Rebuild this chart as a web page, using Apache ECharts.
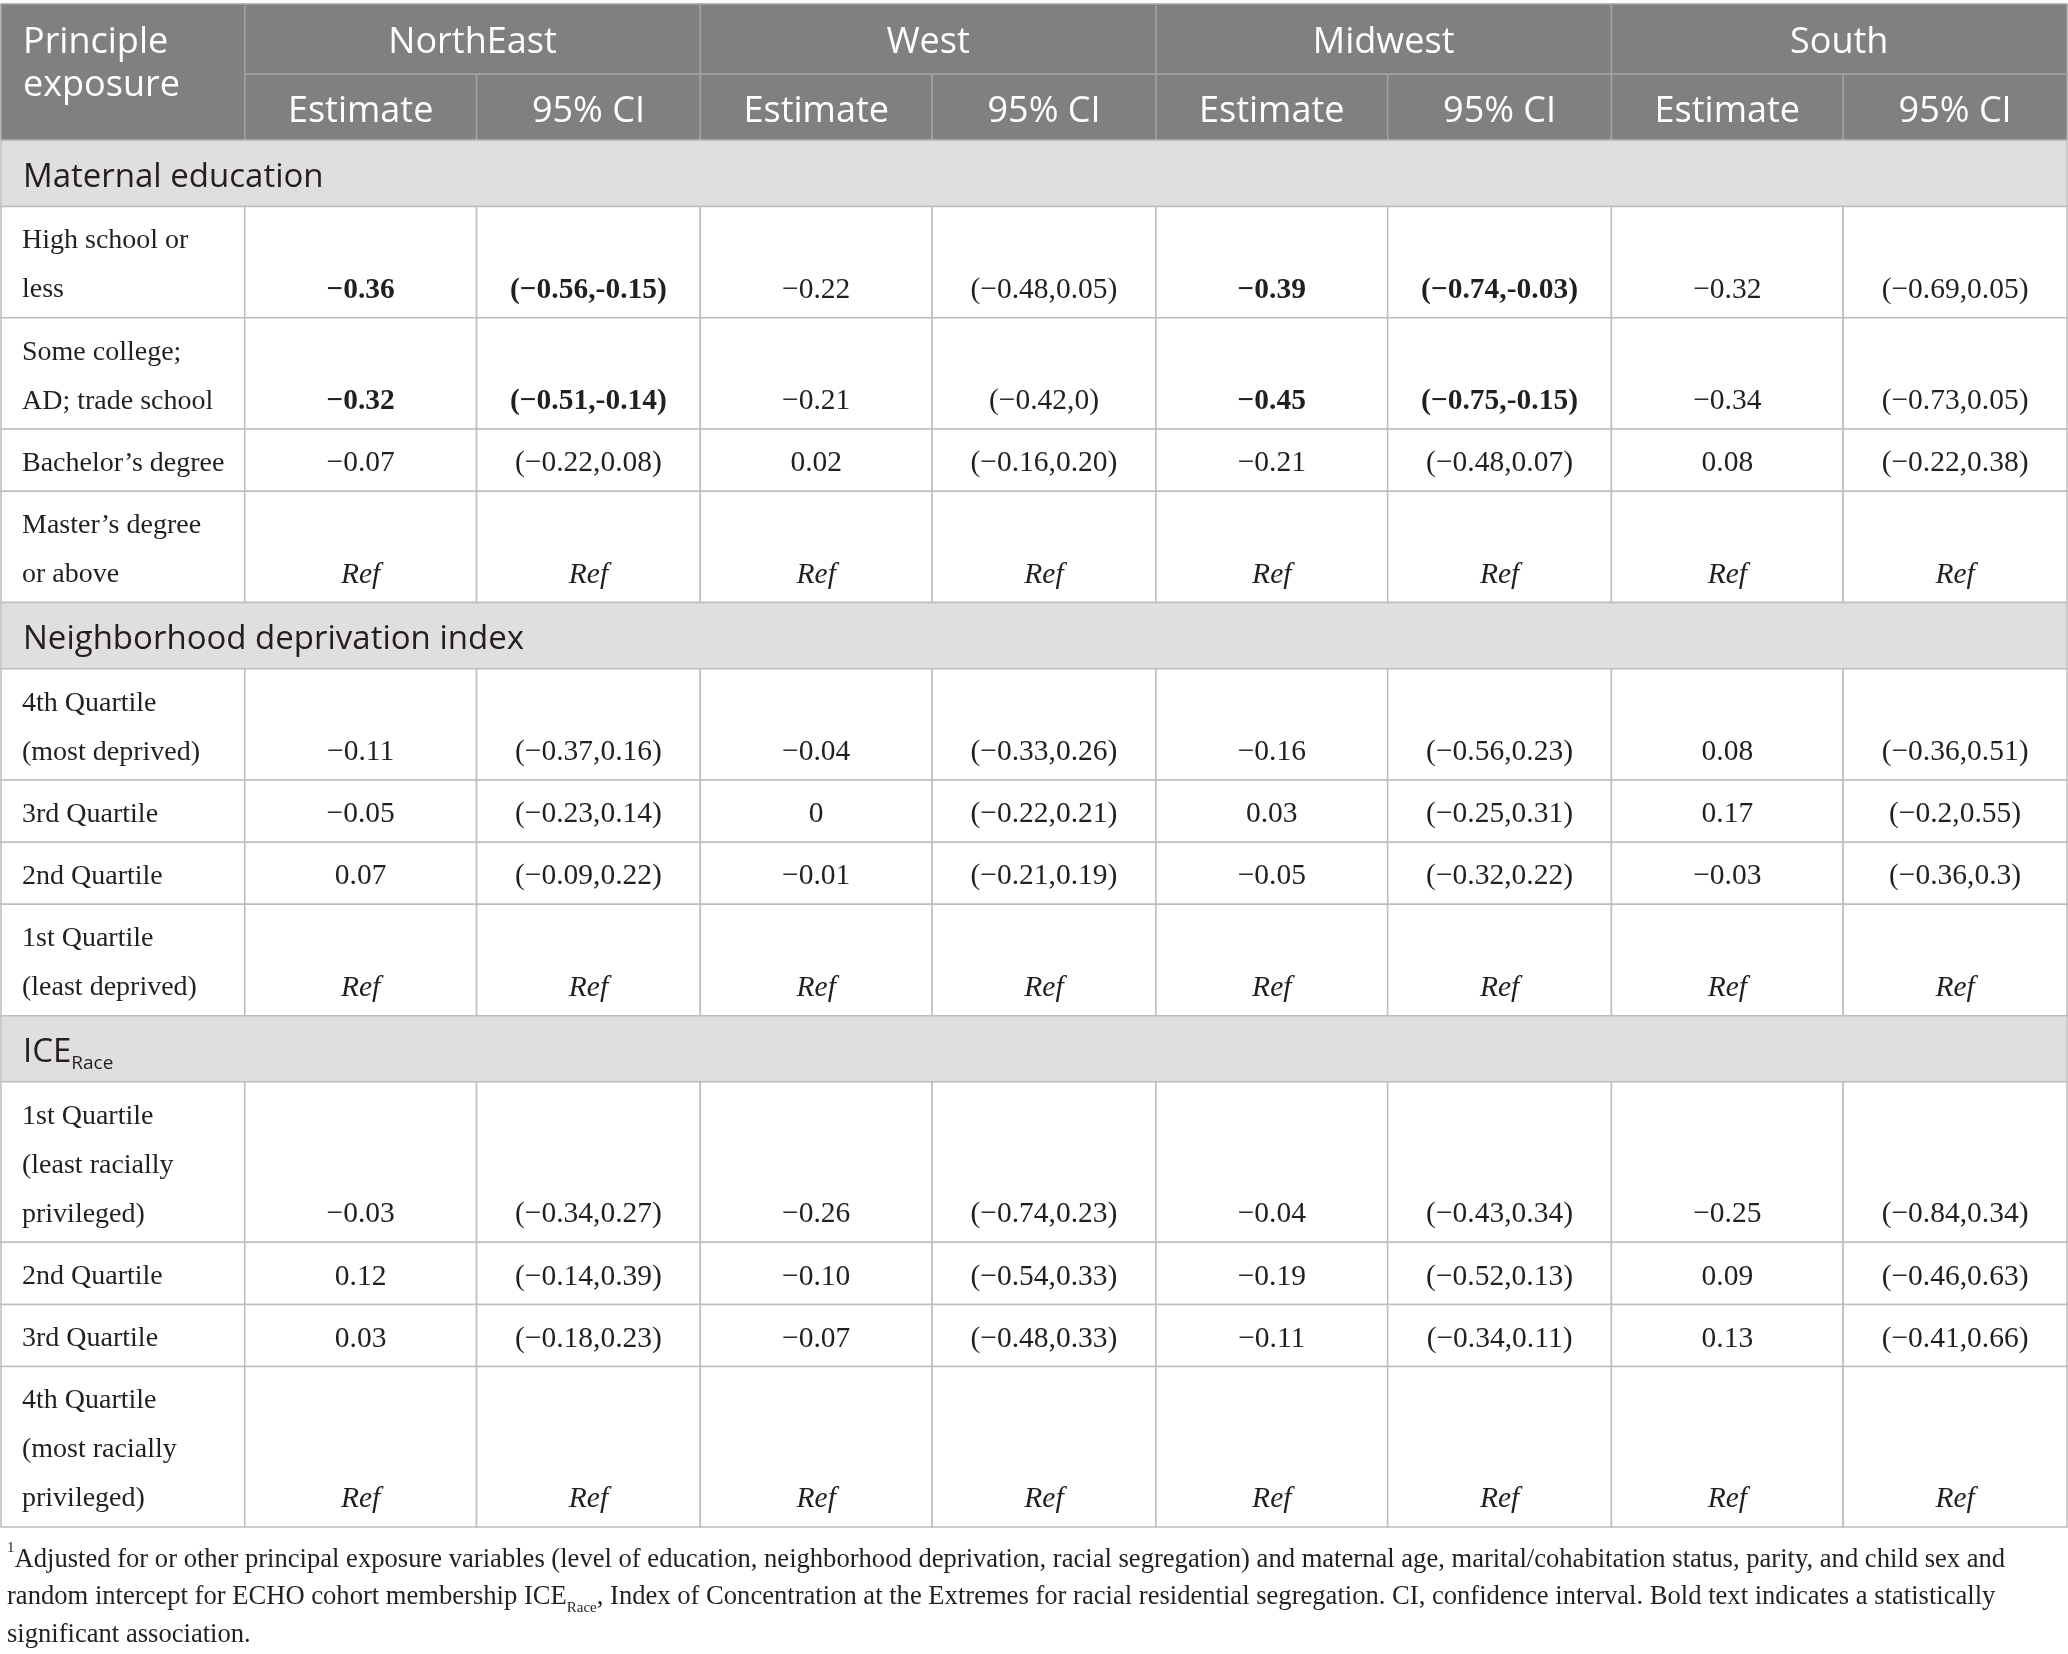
<!DOCTYPE html>
<html>
<head>
<meta charset="utf-8">
<script src="https://cdn.jsdelivr.net/npm/echarts@6/dist/echarts.min.js"></script>
<style>html,body{margin:0;padding:0;background:#fff}#main{width:2068px;height:1654px}</style>
</head>
<body>
<div id="main"></div>
<script>
// table content
const regions = ['NorthEast', 'West', 'Midwest', 'South'];
const subHeads = ['Estimate', '95% CI'];
const corner = 'Principle\nexposure';
const sections = ['Maternal education', 'Neighborhood deprivation index', '{a|ICE}{sub|Race}'];
const rowLabels = [
  ['High school or\nless', 'Some college;\nAD; trade school', 'Bachelor’s degree', 'Master’s degree\nor above'],
  ['4th Quartile\n(most deprived)', '3rd Quartile', '2nd Quartile', '1st Quartile\n(least deprived)'],
  ['1st Quartile\n(least racially\nprivileged)', '2nd Quartile', '3rd Quartile', '4th Quartile\n(most racially\nprivileged)']
];

const estNorthEast = ['−0.36', '−0.32', '−0.07', 'Ref', '−0.11', '−0.05', '0.07', 'Ref', '−0.03', '0.12', '0.03', 'Ref'];
const ciNorthEast = ['(−0.56,-0.15)', '(−0.51,-0.14)', '(−0.22,0.08)', 'Ref', '(−0.37,0.16)', '(−0.23,0.14)', '(−0.09,0.22)', 'Ref', '(−0.34,0.27)', '(−0.14,0.39)', '(−0.18,0.23)', 'Ref'];
const estWest = ['−0.22', '−0.21', '0.02', 'Ref', '−0.04', '0', '−0.01', 'Ref', '−0.26', '−0.10', '−0.07', 'Ref'];
const ciWest = ['(−0.48,0.05)', '(−0.42,0)', '(−0.16,0.20)', 'Ref', '(−0.33,0.26)', '(−0.22,0.21)', '(−0.21,0.19)', 'Ref', '(−0.74,0.23)', '(−0.54,0.33)', '(−0.48,0.33)', 'Ref'];
const estMidwest = ['−0.39', '−0.45', '−0.21', 'Ref', '−0.16', '0.03', '−0.05', 'Ref', '−0.04', '−0.19', '−0.11', 'Ref'];
const ciMidwest = ['(−0.74,-0.03)', '(−0.75,-0.15)', '(−0.48,0.07)', 'Ref', '(−0.56,0.23)', '(−0.25,0.31)', '(−0.32,0.22)', 'Ref', '(−0.43,0.34)', '(−0.52,0.13)', '(−0.34,0.11)', 'Ref'];
const estSouth = ['−0.32', '−0.34', '0.08', 'Ref', '0.08', '0.17', '−0.03', 'Ref', '−0.25', '0.09', '0.13', 'Ref'];
const ciSouth = ['(−0.69,0.05)', '(−0.73,0.05)', '(−0.22,0.38)', 'Ref', '(−0.36,0.51)', '(−0.2,0.55)', '(−0.36,0.3)', 'Ref', '(−0.84,0.34)', '(−0.46,0.63)', '(−0.41,0.66)', 'Ref'];
// rows (0-based, over all 12 body rows) that are statistically significant
const sigNorthEast = [0, 1];
const sigWest = [];
const sigMidwest = [0, 1];
const sigSouth = [];

const footnote = '{sup|1}Adjusted for or other principal exposure variables (level of education, neighborhood deprivation, racial segregation) and maternal age, marital/cohabitation status, parity, and child sex and\n' +
  'random intercept for ECHO cohort membership ICE{sub|Race}, Index of Concentration at the Extremes for racial residential segregation. CI, confidence interval. Bold text indicates a statistically\n' +
  'significant association.';

const est = [estNorthEast, estWest, estMidwest, estSouth];
const ci = [ciNorthEast, ciWest, ciMidwest, ciSouth];
const sig = [sigNorthEast, sigWest, sigMidwest, sigSouth];

// layout (in axis units)
const firstW = 244, estW = 232, ciW = 224;
const headH = [70, 66], sectionH = 66, lineH = 49, rowPad = 13;

const cells = [];
let xs = [0, firstW];
regions.forEach(() => {
  xs.push(xs[xs.length - 1] + estW);
  xs.push(xs[xs.length - 1] + ciW);
});
const totalW = xs[xs.length - 1];

cells.push({x0: 0, x1: firstW, y0: 0, y1: headH[0] + headH[1], kind: 'corner', text: corner});
regions.forEach((r, i) => {
  const a = xs[1 + i * 2], b = xs[2 + i * 2], c = xs[3 + i * 2];
  cells.push({x0: a, x1: c, y0: 0, y1: headH[0], kind: 'head', text: r});
  cells.push({x0: a, x1: b, y0: headH[0], y1: headH[0] + headH[1], kind: 'head', text: subHeads[0]});
  cells.push({x0: b, x1: c, y0: headH[0], y1: headH[0] + headH[1], kind: 'head', text: subHeads[1]});
});

let y = headH[0] + headH[1];
let k = 0;
sections.forEach((s, si) => {
  cells.push({x0: 0, x1: totalW, y0: y, y1: y + sectionH, kind: 'section', text: s});
  y += sectionH;
  rowLabels[si].forEach(lab => {
    const n = lab.split('\n').length;
    const h = rowPad + n * lineH;
    cells.push({x0: 0, x1: firstW, y0: y, y1: y + h, kind: 'label', text: lab, n: n});
    regions.forEach((r, ri) => {
      const bold = sig[ri].indexOf(k) >= 0;
      const e = est[ri][k], c = ci[ri][k];
      cells.push({x0: xs[1 + ri * 2], x1: xs[2 + ri * 2], y0: y, y1: y + h, kind: 'value', text: e, n: n, bold: bold, italic: e === 'Ref'});
      cells.push({x0: xs[2 + ri * 2], x1: xs[3 + ri * 2], y0: y, y1: y + h, kind: 'value', text: c, n: n, bold: bold, italic: c === 'Ref'});
    });
    y += h;
    k++;
  });
});
const totalH = y;

const sans = '"Open Sans", "Noto Sans", sans-serif';
const serif = '"Liberation Serif", "DejaVu Serif", serif';
const ink = '#231f20';

function renderItem(params, api) {
  const c = cells[api.value(4)];
  const p0 = api.coord([api.value(0), api.value(2)]);
  const p1 = api.coord([api.value(1), api.value(3)]);
  const w = p1[0] - p0[0], h = p1[1] - p0[1];
  const isHead = c.kind === 'head' || c.kind === 'corner';
  const fill = isHead ? '#7f807f' : (c.kind === 'section' ? '#e0dedf' : '#ffffff');
  const stroke = isHead ? '#a2a2a2' : '#bdbdbd';
  const rect = {type: 'rect', shape: {x: p0[0], y: p0[1], width: w, height: h},
    style: {fill: fill, stroke: stroke, lineWidth: 1.5}};
  let txt;
  if (c.kind === 'head') {
    txt = {x: p0[0] + w / 2, y: p0[1] + h / 2 + 4, text: c.text, fill: '#ffffff', fontFamily: sans, fontSize: 36,
      align: 'center', verticalAlign: 'middle'};
  } else if (c.kind === 'corner') {
    txt = {x: p0[0] + 22, y: p0[1] + 17, text: c.text, fill: '#ffffff', fontFamily: sans, fontSize: 36,
      lineHeight: 43, align: 'left', verticalAlign: 'top'};
  } else if (c.kind === 'section') {
    txt = {x: p0[0] + 22, y: p0[1] + h / 2 + 4, text: c.text, fill: ink, fontFamily: sans, fontSize: 33,
      align: 'left', verticalAlign: 'middle',
      rich: {a: {fontFamily: sans, fontSize: 33, lineHeight: 40, fill: ink},
             sub: {fontFamily: sans, fontSize: 19, lineHeight: 18, verticalAlign: 'bottom', fill: ink}}};
  } else if (c.kind === 'label') {
    txt = {x: p0[0] + 21, y: p0[1] + 10, text: c.text, fill: ink, fontFamily: serif, fontSize: 28,
      lineHeight: lineH, align: 'left', verticalAlign: 'top'};
  } else {
    txt = {x: p0[0] + w / 2, y: p0[1] + 10 + (c.n - 1) * lineH, text: c.text, fill: ink, fontFamily: serif,
      fontSize: 29.5, lineHeight: lineH, align: 'center', verticalAlign: 'top',
      fontWeight: c.bold ? 'bold' : 'normal', fontStyle: c.italic ? 'italic' : 'normal'};
  }
  return {type: 'group', children: [rect, {type: 'text', style: txt}]};
}

const option = {
  backgroundColor: '#ffffff',
  animation: false,
  title: {
    text: footnote,
    left: 2,
    top: 1536,
    textStyle: {
      fontFamily: serif, fontSize: 26.6, fontWeight: 'normal', color: ink, lineHeight: 37.5,
      rich: {
        sup: {fontFamily: serif, fontSize: 15, lineHeight: 24, verticalAlign: 'top', color: ink},
        sub: {fontFamily: serif, fontSize: 15, lineHeight: 26, verticalAlign: 'bottom', color: ink}
      }
    }
  },
  grid: {left: 1, top: 4, width: 2066, height: 1523},
  xAxis: {type: 'value', min: 0, max: totalW, show: false},
  yAxis: {type: 'value', min: 0, max: totalH, inverse: true, show: false},
  series: [{
    type: 'custom',
    silent: true,
    renderItem: renderItem,
    encode: {x: [0, 1], y: [2, 3]},
    data: cells.map((c, i) => [c.x0, c.x1, c.y0, c.y1, i])
  }]
};

echarts.init(document.getElementById('main')).setOption(option);
</script>
</body>
</html>
